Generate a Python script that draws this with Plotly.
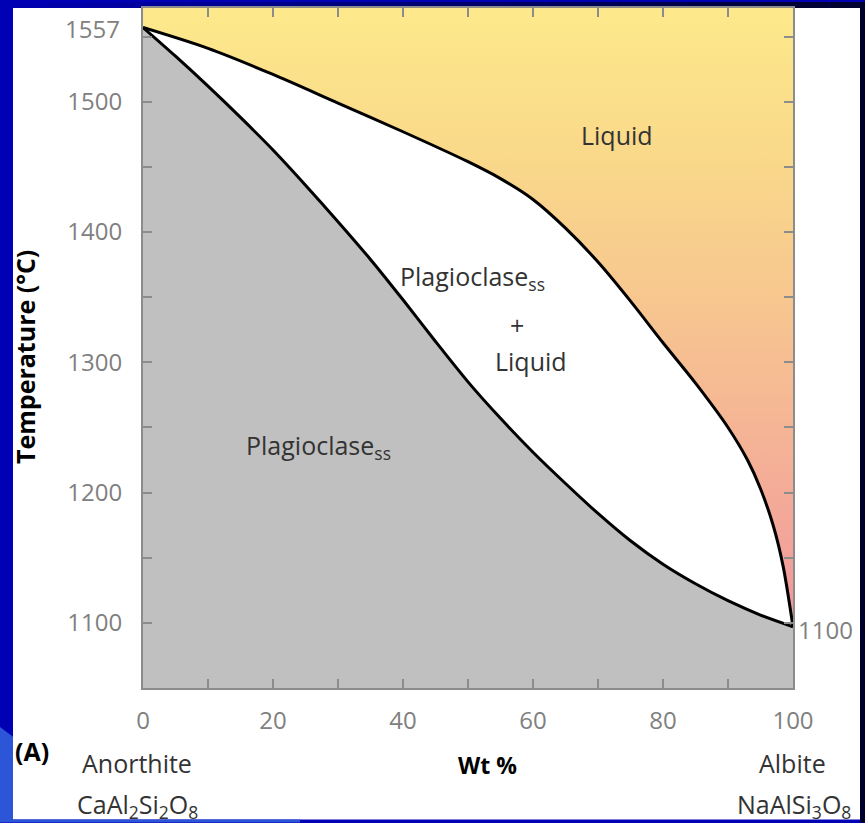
import plotly.graph_objects as go

# ---- data ----
liq_x = [0, 10, 20, 30, 40, 50, 55, 60, 65, 70, 75, 80, 85, 90, 93, 95, 97, 98.5, 100]
liq_T = [1557, 1541, 1521, 1499, 1477, 1454, 1441, 1425, 1403, 1377, 1347, 1315, 1284, 1250, 1225, 1203, 1174, 1143, 1097]

sol_x = [0, 5, 10, 15, 20, 25, 30, 35, 40, 45, 50, 55, 60, 65, 70, 75, 80, 85, 90, 95, 100]
sol_T = [1557, 1535, 1512, 1488, 1463, 1436, 1408, 1379, 1348, 1316, 1285, 1257, 1231, 1207, 1184, 1163, 1145, 1130, 1117, 1106, 1097]

x_ticks = [0, 20, 40, 60, 80, 100]
y_ticks = [1100, 1200, 1300, 1400, 1500]
x_minor_step = 10
y_minor_step = 50

T_min, T_max = 1050, 1572
T_anorthite = 1557
T_albite_label = "1100"

# ---- geometry ----
W, H = 865, 823
L, R, TOP, BOT = 143, 793, 6, 688


def px(x):
    return (x - L) / (R - L)


def py(y):
    return (BOT - y) / (BOT - TOP)


FONT = "Open Sans"
GRAY = "#808080"
AX = "#8c8c8c"
TXT = 25

fig = go.Figure()

# solid (grey) region
fig.add_trace(go.Scatter(
    x=sol_x + [100, 0], y=sol_T + [T_min, T_min],
    fill="toself", fillcolor="#c0c0c0", line=dict(width=0),
    mode="lines", hoverinfo="skip", showlegend=False))

# liquid region with vertical gradient
fig.add_trace(go.Scatter(
    x=liq_x + [100, 0], y=liq_T + [T_max, T_max],
    fill="toself",
    fillgradient=dict(type="vertical",
                      colorscale=[[0, "#f0959c"], [0.15, "#f3a69a"], [0.5, "#f7c490"],
                                  [0.75, "#f9d88a"], [1, "#fde98b"]]),
    line=dict(width=0), mode="lines", hoverinfo="skip", showlegend=False))

# liquidus and solidus
fig.add_trace(go.Scatter(x=liq_x, y=liq_T, mode="lines",
                         line=dict(color="black", width=3, shape="spline", smoothing=0.8),
                         hoverinfo="skip", showlegend=False))
fig.add_trace(go.Scatter(x=sol_x, y=sol_T, mode="lines",
                         line=dict(color="black", width=3, shape="spline", smoothing=0.8),
                         hoverinfo="skip", showlegend=False))

# ---- background slide decoration ----
shapes = []
shapes.append(dict(type="rect", xref="paper", yref="paper", layer="below",
                   x0=px(13), x1=px(860), y0=py(820), y1=py(TOP),
                   fillcolor="white", line=dict(width=0)))
n = 24
for i in range(n):
    x0 = 13 + (W - 13) * i / n
    x1 = 13 + (W - 13) * (i + 1) / n
    f = i / (n - 1)
    b_ = int(176 - (176 - 48) * f)
    shapes.append(dict(type="rect", xref="paper", yref="paper", layer="below",
                       x0=px(x0), x1=px(x1), y0=py(TOP), y1=py(0),
                       fillcolor=f"rgb(0,0,{b_})", line=dict(width=0)))
shapes.append(dict(type="rect", xref="paper", yref="paper", layer="below",
                   x0=px(860), x1=px(W), y0=py(H), y1=py(0),
                   fillcolor="#00002c", line=dict(width=0)))
shapes.append(dict(type="path", xref="paper", yref="paper", layer="below",
                   path=f"M {px(0)},{py(727)} L {px(13)},{py(737)} L {px(13)},{py(820)} "
                        f"L {px(300)},{py(820)} L {px(300)},{py(H)} L {px(0)},{py(H)} Z",
                   fillcolor="#2d55d8", line=dict(width=0)))

# ---- annotations ----
ann = []


def text(x, y, s, size=TXT, color="#333333", bold=False, angle=0, xanchor="center"):
    if bold:
        s = f"<b>{s}</b>"
    ann.append(dict(x=px(x), y=py(y), xref="paper", yref="paper", text=s, showarrow=False,
                    font=dict(family=FONT, size=size, color=color), textangle=angle,
                    xanchor=xanchor, yanchor="middle"))


text(617, 133, "Liquid")
text(472, 276, "Plagioclase<sub>ss</sub>")
text(517, 324, "+")
text(531, 360, "Liquid")
text(318, 446, "Plagioclase<sub>ss</sub>")
text(122, 27, str(T_anorthite), size=24, color=GRAY, xanchor="right")
text(796, 629, T_albite_label, size=24, color=GRAY, xanchor="left")
text(25, 356, "Temperature (°C)", size=25, color="black", bold=True, angle=-90)
text(487, 765, "Wt %", size=23, color="black", bold=True)
text(32, 751, "(A)", size=25, color="black", bold=True)
text(137, 763, "Anorthite")
text(137, 806, "CaAl<sub>2</sub>Si<sub>2</sub>O<sub>8</sub>")
text(792, 763, "Albite")
text(794, 806, "NaAlSi<sub>3</sub>O<sub>8</sub>")

fig.update_layout(
    width=W, height=H,
    margin=dict(l=L, r=W - R, t=TOP, b=H - BOT),
    paper_bgcolor="#0000b4", plot_bgcolor="white",
    shapes=shapes, annotations=ann,
    xaxis=dict(range=[0, 100], tickvals=x_ticks,
               ticks="inside", ticklen=9, tickwidth=2, tickcolor=AX,
               minor=dict(ticks="inside", ticklen=9, tickwidth=2, tickcolor=AX,
                          tick0=0, dtick=x_minor_step, showgrid=False),
               showline=True, linecolor=AX, linewidth=2, mirror="ticks",
               showgrid=False, zeroline=False, ticklabelstandoff=10,
               tickfont=dict(family=FONT, size=24, color=GRAY)),
    yaxis=dict(range=[T_min, T_max], tickvals=y_ticks,
               ticks="inside", ticklen=9, tickwidth=2, tickcolor=AX,
               minor=dict(ticks="inside", ticklen=9, tickwidth=2, tickcolor=AX,
                          tick0=1100, dtick=y_minor_step, showgrid=False),
               showline=True, linecolor=AX, linewidth=2, mirror="ticks",
               showgrid=False, zeroline=False, ticklabelstandoff=14,
               tickfont=dict(family=FONT, size=24, color=GRAY)),
)

fig.write_html("out.html")
